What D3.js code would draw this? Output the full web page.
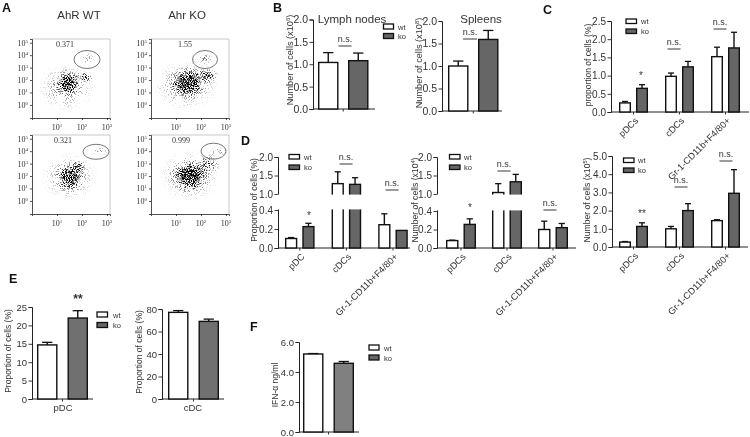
<!DOCTYPE html>
<html><head><meta charset="utf-8">
<script src="https://cdnjs.cloudflare.com/ajax/libs/d3/7.8.5/d3.min.js"></script>
<style>html,body{margin:0;background:#fff}svg{display:block;filter:blur(.35px)}text{font-family:"Liberation Sans",Arial,sans-serif;fill:#333}</style>
</head><body><svg id="c" width="750" height="437"></svg>
<script>
// ---------- data ----------
const series = ["wt","ko"];
const oneSample = [""];
const bLymphValues = [[1.04,1.08]];  const bLymphErrors = [[1.26,1.25]];
const bSpleenValues = [[1.0,1.59]];  const bSpleenErrors = [[1.11,1.79]];
const cCats = ["pDCs","cDCs","Gr-1-CD11b+F4/80+"];
const dCats1 = ["pDC","cDCs","Gr-1-CD11b+F4/80+"];
const cPropValues = [[.25,.65],[.98,1.24],[1.52,1.76]];
const cPropErrors = [[.29,.75],[1.07,1.39],[1.78,2.19]];
const cNumValues = [[.27,1.13],[1.0,2.0],[1.45,2.95]];
const cNumErrors = [[.3,1.33],[1.13,2.38],[1.5,4.25]];
const dPropValues = [[.1,.225],[1.28,1.26],[.245,.185]];
const dPropErrors = [[.11,.26],[1.6,1.44],[.36,.185]];
const dNumValues = [[.08,.255],[1.04,1.33],[.2,.22]];
const dNumErrors = [[.085,.315],[1.28,1.53],[.29,.265]];
const ePdcValues = [[14.7,22]]; const ePdcErrors = [[15.4,24]];
const eCdcValues = [[77,69]];   const eCdcErrors = [[78.6,71]];
const fValues = [[5.2,4.58]];   const fErrors = [[5.23,4.7]];
const flowPercent = ["0.371","1.55","0.321","0.999"];
// flow density clusters: [log x, log y, spread x, spread y, weight]
const flowWT1 = [[1.35,1.4,1.3,2.1,.62],[1.44,1.77,.62,1.15,.8],[1.44,1.77,.42,.8,1],[1.44,1.77,.3,.55,1],[2.1,2.2,.4,.6,.8],[2.2,3.75,.4,.55,.55]];
const flowKO1 = [[1.4,1.6,1.45,2.3,.66],[1.48,1.77,.8,1.35,.85],[1.48,1.77,.55,.95,1],[1.48,1.77,.42,.7,1],[2.25,2.35,.55,.65,.88],[2.08,3.7,.5,.55,.75]];
const flowWT2 = [[1.5,1.9,1.25,2.2,.62],[1.52,1.9,.68,1.25,.8],[1.52,1.9,.45,.85,1],[1.52,1.9,.32,.6,1],[1.85,2.85,.3,.6,.85],[2.7,4.0,.45,.45,.5]];
const flowKO2 = [[1.55,2.0,1.35,2.3,.66],[1.56,2.0,.85,1.4,.85],[1.56,2.0,.58,1.0,1],[1.56,2.0,.42,.72,1],[2.3,3.0,.6,.9,.72],[2.7,3.95,.45,.45,.62]];
// ---------- layout ----------
const svg = d3.select("#c");
const defs = svg.append("defs");
const g = defs.append("radialGradient").attr("id","blob");
g.append("stop").attr("offset","0%").attr("stop-color","#000").attr("stop-opacity",1);
g.append("stop").attr("offset","55%").attr("stop-color","#000").attr("stop-opacity",.55);
g.append("stop").attr("offset","100%").attr("stop-color","#000").attr("stop-opacity",0);
const fl = defs.append("filter").attr("id","speck").attr("x",0).attr("y",0).attr("width","100%").attr("height","100%")
  .attr("color-interpolation-filters","sRGB");
fl.append("feTurbulence").attr("type","fractalNoise").attr("baseFrequency",.95).attr("numOctaves",2).attr("seed",7).attr("result","t");
fl.append("feColorMatrix").attr("in","t").attr("type","matrix").attr("values","0 0 0 0 0  0 0 0 0 0  0 0 0 0 0  3.2 0 0 0 -1.1").attr("result","n");
const gm = fl.append("feComponentTransfer").attr("in","SourceGraphic").attr("result","s");
gm.append("feFuncA").attr("type","gamma").attr("amplitude",1).attr("exponent",1.7).attr("offset",0);
fl.append("feComposite").attr("in","s").attr("in2","n").attr("operator","arithmetic")
  .attr("k1",0).attr("k2",1).attr("k3",1).attr("k4",-1).attr("result","m");
const ct = fl.append("feComponentTransfer").attr("in","m");
ct.append("feFuncA").attr("type","linear").attr("slope",1.6).attr("intercept",0);

function flow(o){
  const p = svg.append("g");
  const x = d3.scaleLinear().domain([0,3.12]).range([o.l,o.r]);
  const y = d3.scaleLinear().domain([-1.05,5.3]).range([o.b,o.t]);
  p.append("path").attr("d",`M${o.l},${o.t}H${o.r}V${o.b}`).attr("fill","none").attr("stroke","#bbb").attr("stroke-width",.8);
  const cl = "clip"+o.l+o.t;
  defs.append("clipPath").attr("id",cl).append("rect").attr("x",o.l).attr("y",o.t).attr("width",o.r-o.l).attr("height",o.b-o.t);
  const blobs = p.append("g").attr("clip-path",`url(#${cl})`).append("g").attr("filter","url(#speck)");
  blobs.append("rect").attr("x",o.l).attr("y",o.t).attr("width",o.r-o.l).attr("height",o.b-o.t).attr("fill","#000").attr("fill-opacity",0.01);
  blobs.selectAll("ellipse").data(o.data).join("ellipse")
    .attr("cx",d=>x(d[0])).attr("cy",d=>y(d[1]))
    .attr("rx",d=>x(d[2])-x(0)).attr("ry",d=>y(0)-y(d[3]))
    .attr("fill","url(#blob)").attr("opacity",d=>d[4]);
  const ax = p.append("g").attr("transform",`translate(0,${o.b})`)
    .call(d3.axisBottom(x).tickValues([1,2,3]).tickSize(2).tickFormat(""));
  const ay = p.append("g").attr("transform",`translate(${o.l},0)`)
    .call(d3.axisLeft(y).tickValues([0,1,2,3,4,5]).tickSize(2).tickFormat(""));
  [ax,ay].forEach(a=>{a.selectAll("path,line").attr("stroke","#222").attr("stroke-width",.8);});
  const serif = "'Liberation Serif',serif";
  [1,2,3].forEach(d=>{
    const t=p.append("text").attr("x",x(d)).attr("y",o.b+12).attr("text-anchor","middle").style("font-family",serif).style("font-size","8px").text("10");
    t.append("tspan").attr("dy",-3).style("font-size","5px").text(d);
  });
  [0,1,2,3,4,5].forEach(d=>{
    const t=p.append("text").attr("x",o.l-4).attr("y",y(d)+3).attr("text-anchor","end").style("font-family",serif).style("font-size","8px").text("10");
    t.append("tspan").attr("dy",-3).style("font-size","5px").text(d);
  });
  p.append("ellipse").attr("cx",x(o.gate[0])).attr("cy",y(o.gate[1])).attr("rx",o.gate[2]).attr("ry",o.gate[3])
    .attr("fill","none").attr("stroke","#555").attr("stroke-width",.8);
  p.append("text").attr("x",o.pctX).attr("y",o.t+8).attr("text-anchor","middle").style("font-family",serif).style("font-size","8px").text(o.pct);
}
flow({l:32,r:110,t:39,b:118,data:flowWT1,gate:[2.2,3.65,13,9],pct:flowPercent[0],pctX:65});
flow({l:151,r:229,t:39,b:118,data:flowKO1,gate:[2.16,3.65,12.5,9],pct:flowPercent[1],pctX:185});
flow({l:32,r:110,t:135,b:214,data:flowWT2,gate:[2.56,3.95,13,7.5],pct:flowPercent[2],pctX:63});
flow({l:151,r:229,t:135,b:214,data:flowKO2,gate:[2.5,4.0,12.5,8],pct:flowPercent[3],pctX:181});

function label(txt,x,y,size,opts={}){
  return svg.append("text").attr("x",x).attr("y",y).attr("text-anchor",opts.anchor||"middle")
    .style("font-size",size+"px").style("font-weight",opts.bold?"bold":null).style("fill",opts.fill||"#333").text(txt);
}
[["A",2,12],["B",273,12],["C",543,14],["D",241,145],["E",9,283],["F",250,331]].forEach(d=>label(d[0],d[1],d[2],12.5,{anchor:"start",bold:true,fill:"#111"}));
label("AhR WT",79,19,11.5); label("Ahr KO",187,19,11.5);
label("Lymph nodes",352,23,11.5); label("Spleens",481,23,11.5);

function ns(txt,cx,y,w){
  label(txt,cx,y,txt==="n.s."?9:10);
  if(w) svg.append("line").attr("x1",cx-w/2).attr("x2",cx+w/2).attr("y1",y+4).attr("y2",y+4).attr("stroke","#222").attr("stroke-width",.9);
}
function yTitle(parts,x,yc,size){
  const t = svg.append("text").attr("transform",`translate(${x},${yc}) rotate(-90)`).attr("text-anchor","middle").attr("dy",".35em").style("font-size",size+"px");
  t.append("tspan").text(parts[0]);
  if(parts[1]){t.append("tspan").attr("dy",-3).style("font-size",(size*.65)+"px").text(parts[1]);
    t.append("tspan").attr("dy",3).text(parts[2]);}
}
function legend(x,y1,y2,w,h,tx){
  series.forEach((s,i)=>{
    const y=i?y2:y1;
    svg.append("rect").attr("x",x).attr("y",y).attr("width",w).attr("height",h).attr("fill",i?"#666":"#fff").attr("stroke","#111").attr("stroke-width",1.3);
    label(s,tx,y+h/2+3,7.5,{anchor:"start"});
  });
}
function bars(o){
  const n=o.cats.length, gw=2*o.bw+o.gap;
  const R=o.L+n*gw+(n-1)*(o.gg||0);
  const x0=d3.scaleBand().domain(o.cats).range([o.L,R]).paddingInner((o.gg||0)/(gw+(o.gg||0))).paddingOuter(0);
  const x1=d3.scaleBand().domain(series).range([0,gw]).paddingInner(o.gap/(o.bw+o.gap)).paddingOuter(0);
  const y=d3.scaleLinear().domain(o.dom).range(o.rng);
  const p=svg.append("g");
  const ya=p.append("g").attr("transform",`translate(${o.ax},0)`)
    .call(d3.axisLeft(y).tickValues(o.ticks).tickSize(3.5).tickPadding(1.5).tickFormat(o.fmt));
  const xa=p.append("g").attr("transform",`translate(0,${o.rng[0]})`);
  xa.call(d3.axisBottom(x0).tickSize(2.5).tickFormat(""));
  xa.select(".domain").attr("d",`M${o.ax},0H${o.end}`);
  [ya,xa].forEach(a=>{a.selectAll("path,line").attr("stroke","#222").attr("stroke-width",.9);a.select(".domain").attr("stroke-width",1);});
  ya.selectAll("text").style("font-size",o.fs+"px").style("font-family",'"Liberation Sans",Arial,sans-serif').style("fill","#333");
  o.vals.forEach((row,i)=>{
    const gb=p.append("g").attr("transform",`translate(${x0(o.cats[i])},0)`);
    const items=series.map((s,j)=>({s,v:row[j],e:o.errs[i][j]}));
    gb.selectAll("line.e").data(items).join("line").attr("class","e")
      .attr("x1",d=>x1(d.s)+x1.bandwidth()/2).attr("x2",d=>x1(d.s)+x1.bandwidth()/2)
      .attr("y1",d=>y(d.v)).attr("y2",d=>y(d.e)).attr("stroke","#111").attr("stroke-width",1.4);
    gb.selectAll("line.c").data(items.filter(d=>d.e>d.v)).join("line").attr("class","c")
      .attr("x1",d=>x1(d.s)+x1.bandwidth()/2-o.bw*.25).attr("x2",d=>x1(d.s)+x1.bandwidth()/2+o.bw*.25)
      .attr("y1",d=>y(d.e)).attr("y2",d=>y(d.e)).attr("stroke","#111").attr("stroke-width",1.3);
    gb.selectAll("rect").data(items).join("rect")
      .attr("x",d=>x1(d.s)+.7).attr("width",x1.bandwidth()-1.4)
      .attr("y",d=>y(d.v)).attr("height",d=>y(0)-y(d.v))
      .attr("fill",d=>d.s==="wt"?"#fff":(o.ko||"#666")).attr("stroke","#111").attr("stroke-width",1.4);
  });
  if(o.gapBand){
    p.append("rect").attr("x",o.ax-.5).attr("width",o.end-o.ax+1)
      .attr("y",y(o.gapBand[1])+.6).attr("height",y(o.gapBand[0])-y(o.gapBand[1])-1.2).attr("fill","#fff");
  }
  if(o.rot){
    o.cats.forEach(c=>{
      svg.append("text").attr("transform",`translate(${x0(c)+gw/2+3},${o.rng[0]+7}) rotate(-45)`)
        .attr("text-anchor","end").attr("dy",".35em").style("font-size","9.2px").text(c);
    });
  }
}
const f1=d3.format(".1f"), f0=d3.format("d");
bars({cats:oneSample,vals:bLymphValues,errs:bLymphErrors,L:318,bw:20.5,gap:9.5,ax:313,end:375,dom:[0,2],rng:[109,19.5],ticks:[0,.5,1,1.5,2],fmt:f1,fs:10.5});
bars({cats:oneSample,vals:bSpleenValues,errs:bSpleenErrors,L:448,bw:20.5,gap:9.5,ax:442,end:502,dom:[0,2],rng:[111,21],ticks:[0,.5,1,1.5,2],fmt:f1,fs:10.5});
bars({cats:cCats,vals:cPropValues,errs:cPropErrors,L:619,bw:12,gap:5,gg:17,ax:611,end:749,dom:[0,2.5],rng:[112,21],ticks:[0,.5,1,1.5,2,2.5],fmt:f1,fs:10,rot:true});
bars({cats:cCats,vals:cNumValues,errs:cNumErrors,L:619,bw:12,gap:5,gg:17,ax:612,end:748,dom:[0,5],rng:[247,156],ticks:[0,1,2,3,4,5],fmt:f1,fs:10,rot:true});
bars({cats:dCats1,vals:dPropValues,errs:dPropErrors,L:285,bw:12.3,gap:5,gg:17,ax:278,end:410,dom:[0,.4,1,2],rng:[248,210,194,157],ticks:[0,.2,.4,1,1.5,2],fmt:f1,fs:10,rot:true,gapBand:[.4,1]});
bars({cats:cCats,vals:dNumValues,errs:dNumErrors,L:446,bw:12.5,gap:5,gg:16,ax:437,end:576,dom:[0,.4,1,2],rng:[248,211,194,157],ticks:[0,.2,.4,1,1.5,2],fmt:f1,fs:10,rot:true,gapBand:[.4,1]});
bars({cats:oneSample,vals:ePdcValues,errs:ePdcErrors,L:37,bw:20.5,gap:10,ax:32,end:93,dom:[0,25],rng:[399,307],ticks:[0,5,10,15,20,25],fmt:f0,fs:9.5,ko:"#707070"});
bars({cats:oneSample,vals:eCdcValues,errs:eCdcErrors,L:168,bw:20.5,gap:10,ax:162,end:224,dom:[0,80],rng:[399,309],ticks:[0,20,40,60,80],fmt:f0,fs:9.5,ko:"#707070"});
bars({cats:oneSample,vals:fValues,errs:fErrors,L:303,bw:20.5,gap:10,ax:299,end:359,dom:[0,6],rng:[432,342],ticks:[0,2,4,6],fmt:f1,fs:9.5,ko:"#808080"});

yTitle(["Number of cells (x10","6",")"],290,60,9.2);
yTitle(["Number of cells (x10","8",")"],419,63,9.2);
yTitle(["proportion of cells (%)"],588,65,8.5);
yTitle(["Proportion of cells (%)"],254,200,8.5);
yTitle(["Number of cells (x10","4",")"],415,200,8.6);
yTitle(["Number of cells (x10","5",")"],587,200,8.6);
yTitle(["Proportion of cells (%)"],8,351,8.5);
yTitle(["Proportion of cells (%)"],139,352,8.5);
yTitle(["IFN-α ng/ml"],275,385,8.5);

legend(383.5,24,33.5,10,5,398);
legend(626,19,29,10.5,4.5,641);
legend(623.5,158,168,10.5,4.5,638);
legend(289,154.5,165,10.5,4.5,304);
legend(449.5,154.5,165,10.5,4.5,464);
legend(97,312,322.5,10.5,5,113);
legend(369,345,355,10,5,384);

ns("n.s.",345,42,13); ns("n.s.",470,35,14);
ns("n.s.",674,45,13); ns("n.s.",720,25,13); ns("*",641,79);
ns("n.s.",681,183,13); ns("n.s.",726,157,13); ns("**",642,217);
ns("n.s.",346,160,13); ns("n.s.",392,186,13); ns("*",309,219);
ns("n.s.",504,167,13); ns("n.s.",550,206,13); ns("*",470,211);
label("**",78,303,12,{bold:true});
label("pDC",63,411,9.5); label("cDC",193,411,9.5);
</script></body></html>
